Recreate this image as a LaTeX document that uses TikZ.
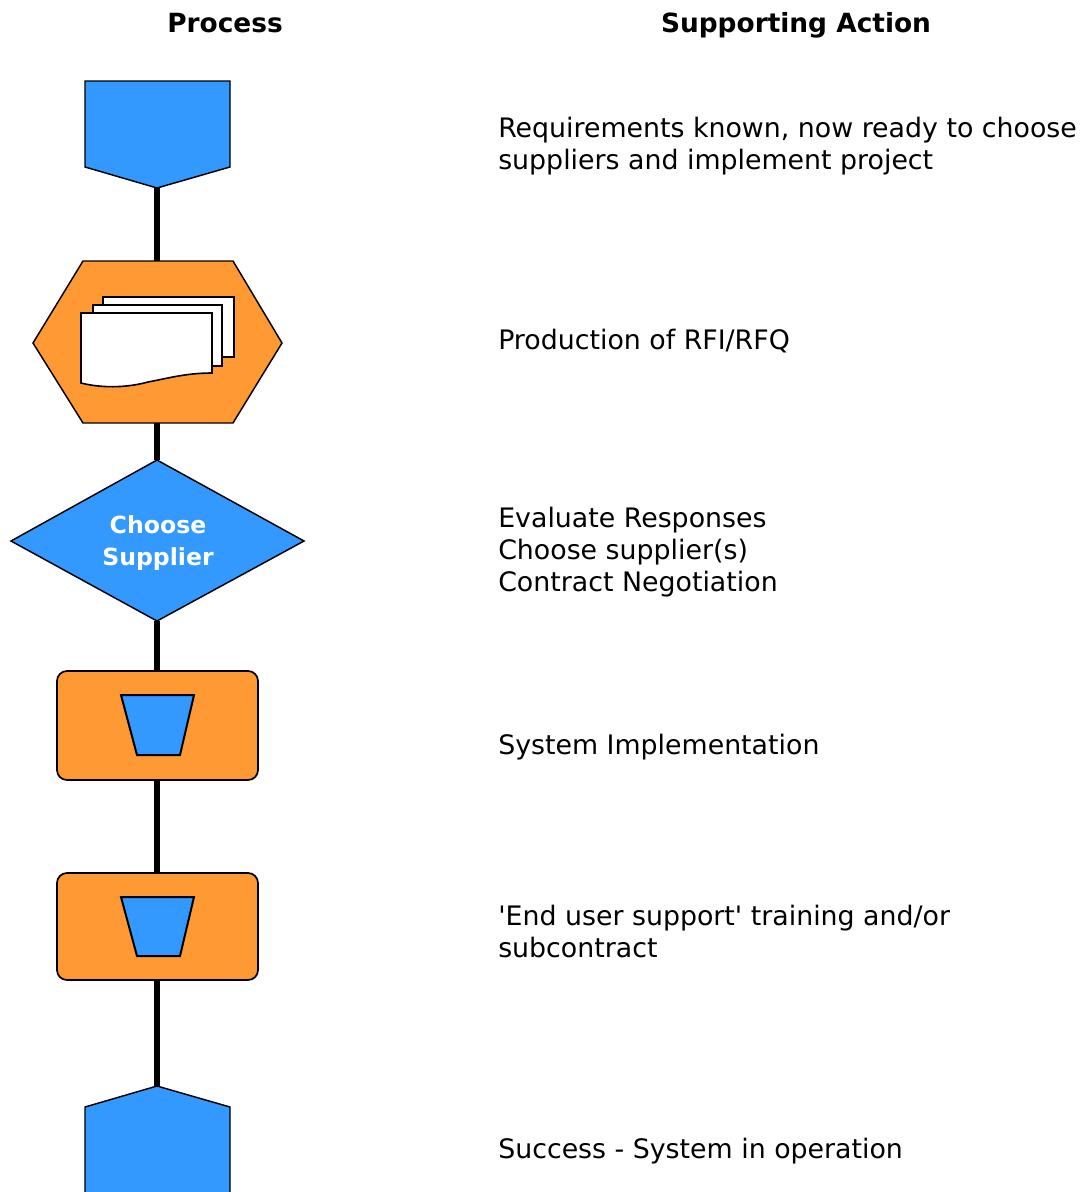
\documentclass[tikz,border=0pt]{standalone}
\usepackage{fontspec}
\setmainfont{DejaVu Sans}
\definecolor{blu}{HTML}{3399FF}
\definecolor{org}{HTML}{FF9933}
\tikzset{
  link/.style={line width=4.5pt,black},
  blueshape/.style={draw=black,line width=1.1pt,fill=blu,line join=miter},
  blueinner/.style={draw=black,line width=1.5pt,fill=blu,line join=miter},
  orgshape/.style={draw=black,line width=1.1pt,fill=org},
  sheet/.style={draw=black,line width=1.5pt,fill=white,line join=miter},
  head/.style={font=\fontsize{19.8pt}{24pt}\selectfont\bfseries,inner sep=0pt},
  body/.style={anchor=base west,inner sep=0pt,align=left,font=\fontsize{20.1pt}{24pt}\selectfont},
  dtext/.style={align=center,inner sep=0pt,text=white,font=\fontsize{17.7pt}{24pt}\selectfont\bfseries}
}
\begin{document}
\begin{tikzpicture}[x=0.75pt,y=-0.75pt]
\useasboundingbox (0,0) rectangle (1080,1192);
% anchors for connectors
\coordinate (n1) at (157,188);
\coordinate (n2t) at (157,261);
\coordinate (n2b) at (157,423);
\coordinate (n3t) at (157,460);
\coordinate (n3b) at (157,621);
\coordinate (n4t) at (157,671);
\coordinate (n4b) at (157,780);
\coordinate (n5t) at (157,873);
\coordinate (n5b) at (157,980);
\coordinate (n6) at (157,1086);
\draw[link] (n1) -- (n2t);
\draw[link] (n2b) -- (n3t);
\draw[link] (n3b) -- (n4t);
\draw[link] (n4b) -- (n5t);
\draw[link] (n5b) -- (n6);
% top off-page
\path[blueshape] (85,81) -- (230,81) -- (230,167) -- (157,188) -- (85,167) -- cycle;
% hexagon
\path[orgshape] (83,261) -- (233,261) -- (282,343) -- (233,423) -- (83,423) -- (33,343) -- cycle;
\path[sheet] (103,297) rectangle (234,357);
\path[sheet] (93,305) rectangle (222,366);
\path[sheet,line width=1.2pt] (81,313) -- (212,313) -- (212,373) .. controls (185,373) and (165,379) .. (148,382) .. controls (130,387) and (105,389) .. (81,383) -- cycle;
% diamond
\path[blueshape] (157,460) -- (304,541) -- (157,621) -- (11,541) -- cycle;
\node[dtext] (choose) at (158,543) {Choose\\Supplier};
% rounded boxes
\path[orgshape,line width=1.3pt,rounded corners=7.5pt] (57,671) rectangle (258,780);
\path[blueinner] (121,695) -- (194,695) -- (180,755) -- (137,755) -- cycle;
\path[orgshape,line width=1.3pt,rounded corners=7.5pt] (57,873) rectangle (258,980);
\path[blueinner] (121,897) -- (194,897) -- (180,956) -- (137,956) -- cycle;
% bottom off-page
\path[blueshape] (85,1107) -- (157,1086) -- (230,1107) -- (230,1194) -- (85,1194) -- cycle;
% headings
\node[head,anchor=base] (hp) at (225,32) {Process};
\node[head,anchor=base] (hs) at (796,32) {Supporting Action};
% texts
\node[body] (t1) at (498,169) {Requirements known, now ready to choose\\suppliers and implement project};
\node[body] (t2) at (498,349) {Production of RFI/RFQ};
\node[body] (t3) at (498,591) {Evaluate Responses\\Choose supplier(s)\\Contract Negotiation};
\node[body] (t4) at (498,754) {System Implementation};
\node[body] (t5) at (498,957) {\textquotesingle End user support\textquotesingle{} training and/or\\subcontract};
\node[body] (t6) at (498,1158) {Success - System in operation};
\end{tikzpicture}
\end{document}
